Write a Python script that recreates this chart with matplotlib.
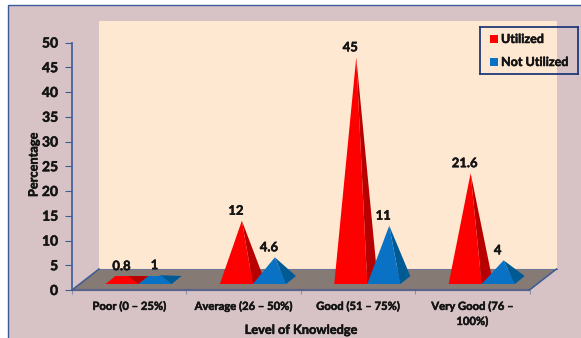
import matplotlib
matplotlib.use("Agg")
import matplotlib.pyplot as plt
import matplotlib.patheffects as pe
from matplotlib.patches import Polygon, Rectangle

categories = ["Poor (0 – 25%)", "Average (26 – 50%)", "Good (51 – 75%)", "Very Good (76 –\n100%)"]
utilized = [0.8, 12, 45, 21.6]
not_utilized = [1, 4.6, 11, 4]
y_ticks = [0, 5, 10, 15, 20, 25, 30, 35, 40, 45, 50]

W, H = 581, 338
BG, WALL, FLOOR = "#D7C3C5", "#FFE8D2", "#857A74"
LINE = "#3C5A96"
TEXT = "#141414"
RED, RED_DK = "#FF0000", "#B80000"
BLUE, BLUE_DK = "#0A72C4", "#005A94"

plt.rcParams["font.family"] = ["Lato", "DejaVu Sans"]
plt.rcParams["font.weight"] = "bold"

# Thickens the small bold labels slightly
HEAVY = [pe.withStroke(linewidth=0.35, foreground=TEXT)]

fig = plt.figure(figsize=(W / 100, H / 100), dpi=100, facecolor="white")

# Plot axes: category slots run left to right, the value scale runs up the wall
X0, X1, Y0, Y50 = 72, 529.5, 290, 42.5
ax = fig.add_axes([X0 / W, 1 - Y0 / H, (X1 - X0) / W, (Y0 - Y50) / H])
ax.set_xlim(0, len(categories))
ax.set_ylim(0, 50)
ax.patch.set_alpha(0)
ax.set_clip_on(False)

XU = (X1 - X0) / len(categories)
YU = (Y0 - Y50) / 50


def pt(x, y, dx=0, dy=0):
    """Data point shifted by an offset in pixels (dy upward)."""
    return (x + dx / XU, y + dy / YU)


def poly(points, color, z, **kw):
    ax.add_patch(Polygon(points, closed=True, facecolor=color, edgecolor="none",
                         clip_on=False, zorder=z, **kw))


# Chart area background and frame
fig.patches.append(Rectangle((8 / W, -0.02), 0.99, 1 - 5 / H + 0.02, transform=fig.transFigure,
                             facecolor=BG, edgecolor=LINE, linewidth=1.0, zorder=-5))

# Back wall and floor, offset by the depth of the 3-D box
DX, DY = 27, 21
poly([pt(0, 0, DX, DY), pt(4, 0, DX, DY), pt(4, 0, DX, 269), pt(0, 0, DX, 269)], WALL, 1)
poly([pt(0, 0), pt(4, 0), pt(4, 0, DX, DY), pt(0, 0, DX, DY)], FLOOR, 2)
ax.plot([0, 4], [0, 0], color="#5A6488", lw=1.6, zorder=3, clip_on=False, solid_capstyle="butt")
ax.plot(*zip(pt(4, 0), pt(4, 0, DX, DY)), color=LINE, lw=1.1, zorder=3, clip_on=False)
ax.plot(*zip(pt(0, 0), pt(0, 0, DX, DY)), color=LINE, lw=1.1, zorder=3, clip_on=False)
ax.plot(*zip(pt(0, 0, DX, DY), pt(4, 0, DX, DY)), color="#6E7898", lw=0.8, zorder=2, clip_on=False)

# Pyramid footprint in pixels
BASE_W = 33
DEPTH_X, DEPTH_Y = 10, 8
FRONT = 6      # height of the front base edge above the axis line
APEX_DX = 22   # apex position measured from the front-left corner
APEX_BASE = 2  # value-axis offset of the apex's zero level


def pyramid(i, left_px, value, color, dark, z):
    fl = pt(i, 0, left_px, FRONT)
    fr = pt(i, 0, left_px + BASE_W, FRONT)
    br = pt(i, 0, left_px + BASE_W + DEPTH_X, FRONT + DEPTH_Y)
    bl = pt(i, 0, left_px + DEPTH_X, FRONT + DEPTH_Y)
    apex = pt(i, value + APEX_BASE, left_px + APEX_DX, 0)
    poly([fl, bl, br, fr], color, z)
    poly([fr, br, apex], dark, z + 0.2)
    poly([fl, fr, apex], color, z + 0.4)
    return apex


# Pyramids and their value labels
for i, (u, n) in enumerate(zip(utilized, not_utilized)):
    ax_u = pyramid(i, 33.5, u, RED, RED_DK, 5 + i)
    ax_n = pyramid(i, 66.5, n, BLUE, BLUE_DK, 5.5 + i)
    for apex, val in ((ax_u, u), (ax_n, n)):
        x_l, y_l = pt(apex[0], apex[1], -6, 10)
        ax.text(x_l, y_l, f"{val:g}", ha="center", va="center", fontsize=9.4,
                color=TEXT, zorder=20, clip_on=False, path_effects=HEAVY)

# Axes
ax.spines[["top", "right", "bottom"]].set_visible(False)
ax.spines["left"].set_color(LINE)
ax.spines["left"].set_linewidth(1.2)
ax.spines["left"].set_zorder(4)
ax.set_yticks(y_ticks)
ax.set_xticks(range(len(categories) + 1))
ax.set_xticklabels([""] * (len(categories) + 1))
ax.tick_params(axis="y", length=5, width=0.8, color=LINE, labelsize=10, pad=5, labelcolor=TEXT)
ax.tick_params(axis="x", length=3, width=0.8, color="#8A8FA5")
for t in ax.get_yticklabels():
    t.set_path_effects(HEAVY)

for i, label in enumerate(categories):
    ax.text(i + 0.5, -2.2, label, ha="center", va="top", fontsize=8.1, color=TEXT,
            linespacing=1.45, clip_on=False, path_effects=HEAVY)

ax.set_xlabel("Level of Knowledge", fontsize=9.2, color=TEXT, fontweight="bold", path_effects=HEAVY)
ax.xaxis.set_label_coords(0.5, -0.137)
ax.set_ylabel("Percentage", fontsize=9.2, color=TEXT, fontweight="bold", path_effects=HEAVY)
ax.yaxis.set_label_coords(-0.071, 0.505)

# Legend
leg_ax = fig.add_axes([480 / W, 1 - 74 / H, 98 / W, 47 / H])
leg_ax.set_xlim(0, 98)
leg_ax.set_ylim(47, 0)
leg_ax.set_xticks([])
leg_ax.set_yticks([])
leg_ax.patch.set_alpha(0)
for s in leg_ax.spines.values():
    s.set_color("#1F3A78")
    s.set_linewidth(1.3)
for y, color, name in ((12, RED, "Utilized"), (35, BLUE, "Not Utilized")):
    leg_ax.add_patch(Rectangle((10, y - 4), 7.5, 7.5, facecolor=color, edgecolor="none"))
    leg_ax.text(21, y, name, va="center", ha="left", fontsize=9, color=TEXT, path_effects=HEAVY)

fig.savefig("out.png", dpi=100)
